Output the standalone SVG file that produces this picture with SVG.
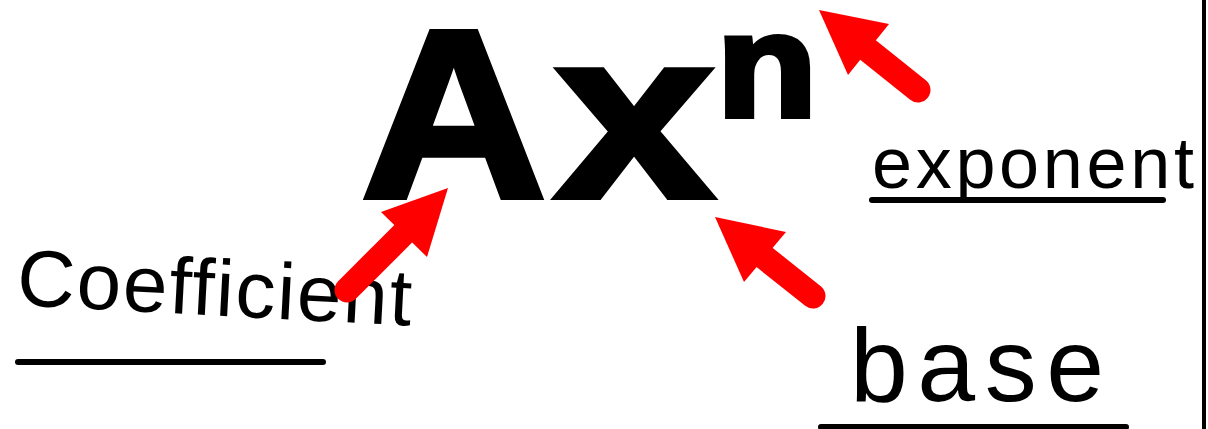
<svg xmlns="http://www.w3.org/2000/svg" width="1208" height="429" viewBox="0 0 1208 429">
<style>
.big{font-family:"Liberation Sans",Arial,sans-serif;font-weight:bold;fill:#000;stroke:#000;stroke-width:6;stroke-linejoin:miter}
.hand{font-family:"Liberation Sans",Arial,sans-serif;fill:#000}
.ul{stroke:#000;stroke-width:6;stroke-linecap:round;fill:none}
.shaft{stroke:#ff0000;stroke-width:25;stroke-linecap:round;fill:none}
.head{fill:#ff0000}
</style>
<rect width="1208" height="429" fill="#fff"/>
<g id="term">
<text class="big" font-size="240" transform="translate(361,197) scale(1.07,1)">A</text>
<text class="big" font-size="240" transform="translate(555,197) scale(1.19,1)">x</text>
<text class="big" font-size="146" transform="translate(717,116) scale(1.12,1)">n</text>
</g>
<g id="coefficient">
<text class="hand" font-size="80" x="16" y="305" textLength="395" lengthAdjust="spacing" transform="rotate(3 16 305)">Coefficient</text>
<line class="ul" x1="18" y1="362" x2="323" y2="362"/>
</g>
<g id="exponent">
<text class="hand" font-size="72" x="872" y="188" textLength="322" lengthAdjust="spacing">exponent</text>
<line class="ul" x1="872" y1="200" x2="1163" y2="200"/>
</g>
<g id="base">
<text class="hand" font-size="104" x="850" y="401" textLength="254" lengthAdjust="spacing">base</text>
<line class="ul" x1="821" y1="427" x2="1126" y2="427"/>
</g>
<line x1="1204" y1="0" x2="1204" y2="429" stroke="#000" stroke-width="4"/>
<g id="connectors">
<line class="shaft" x1="347" y1="290" x2="405" y2="232"/>
<polygon class="head" points="448,188 381,212 427,257"/>
<line class="shaft" x1="918" y1="90" x2="868" y2="50"/>
<polygon class="head" points="819,10 889,24 848,75"/>
<line class="shaft" x1="813" y1="296" x2="764" y2="257"/>
<polygon class="head" points="715,217 786,232 744,282"/>
</g>
</svg>
